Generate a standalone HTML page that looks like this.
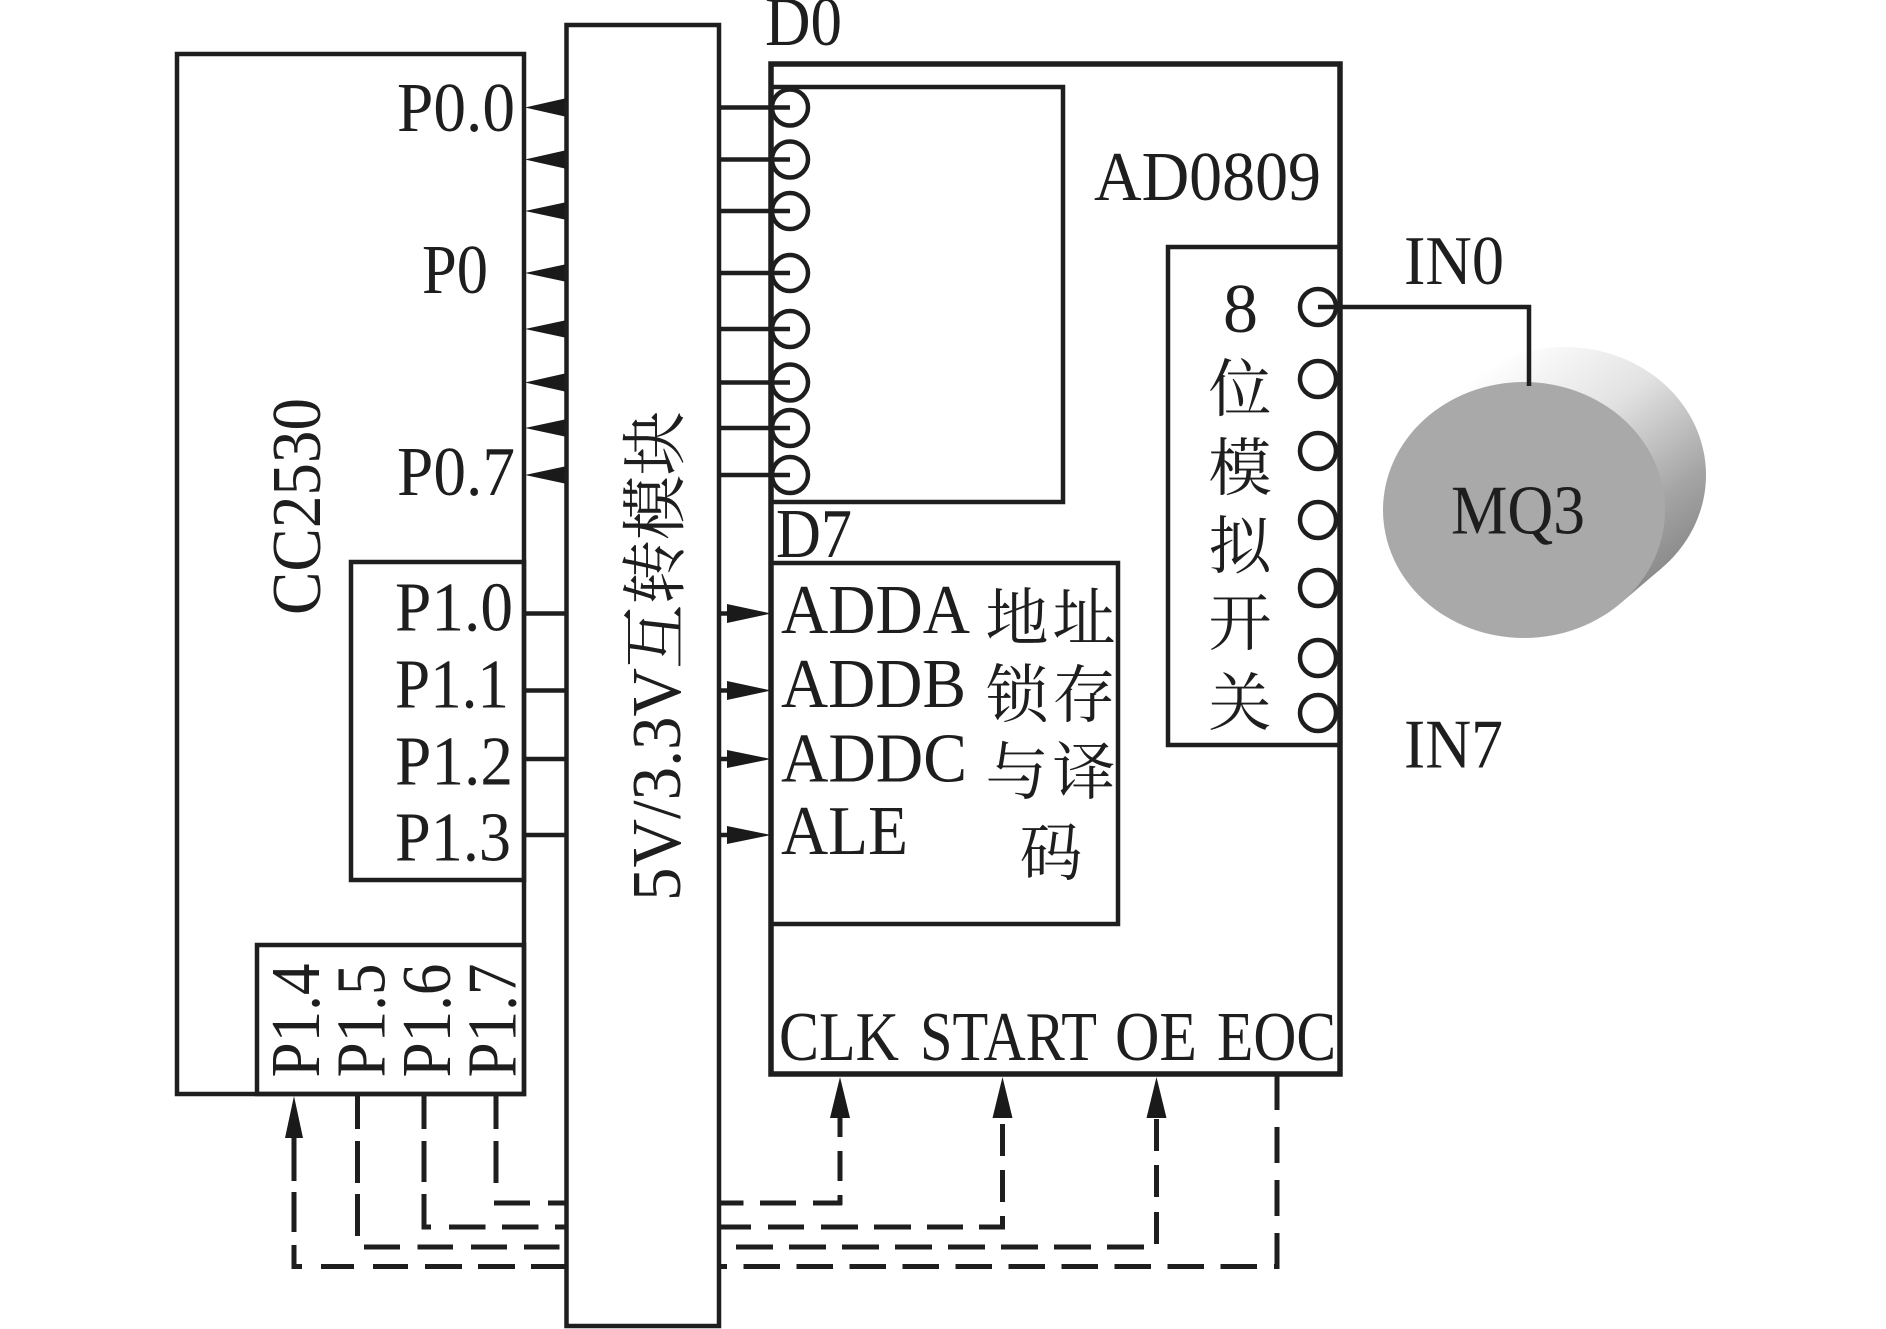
<!DOCTYPE html>
<html><head><meta charset="utf-8"><title>Diagram</title>
<style>
html,body{margin:0;padding:0;background:#fff}
svg{display:block}
text{font-family:"Liberation Serif","Noto Serif CJK SC",serif;fill:#1e1e1e;font-size:70px}
.c{font-size:63px}
</style></head><body>
<svg xmlns="http://www.w3.org/2000/svg" width="1886" height="1329" viewBox="0 0 1886 1329">
<defs>
<linearGradient id="g" gradientUnits="userSpaceOnUse" x1="1510" y1="350" x2="1690" y2="590">
<stop offset="0" stop-color="#fff"/><stop offset=".35" stop-color="#e2e2e2"/><stop offset=".7" stop-color="#a5a5a5"/><stop offset="1" stop-color="#7d7d7d"/>
</linearGradient>
</defs>
<rect width="1886" height="1329" fill="#fff"/>

<!-- MQ3 -->
<g>
<ellipse cx="1565" cy="475" rx="141" ry="128" fill="url(#g)"/>
<polygon points="1427.500,416.700 1468.500,381.700 1661.500,568.300 1620.500,603.300" fill="url(#g)"/>
<ellipse cx="1524" cy="510" rx="141" ry="128" fill="#a9a9a9"/>
</g>

<g fill="none" stroke="#1e1e1e" stroke-width="4.500">
<!-- CC2530 -->
<rect x="177" y="54" width="347" height="1040"/>
<rect x="351" y="562" width="173" height="318"/>
<rect x="257" y="945" width="267" height="149"/>
<!-- AD0809 -->
<rect x="771" y="64" width="569" height="1010" stroke-width="5.500"/>
<rect x="771" y="87" width="292" height="415"/>
<rect x="771" y="563" width="347" height="361"/>
<rect x="1168" y="247" width="172" height="498"/>
<!-- input circles -->
<g>
<circle cx="790" cy="107.500" r="18"/><circle cx="790" cy="159.500" r="18"/><circle cx="790" cy="211" r="18"/><circle cx="790" cy="273" r="18"/><circle cx="790" cy="329" r="18"/><circle cx="790" cy="382.500" r="18"/><circle cx="790" cy="428" r="18"/><circle cx="790" cy="475" r="18"/>
</g>
<g>
<circle cx="1318" cy="307" r="18"/><circle cx="1318" cy="379" r="18"/><circle cx="1318" cy="451" r="18"/><circle cx="1318" cy="520" r="18"/><circle cx="1318" cy="588" r="18"/><circle cx="1318" cy="658" r="18"/><circle cx="1318" cy="713" r="18"/>
</g>
<!-- D lines -->
<path d="M719 107.500H790M719 159.500H790M719 211H790M719 273H790M719 329H790M719 382.500H790M719 428H790M719 475H790"/>
<!-- P1 lines -->
<path d="M524 613.500H566M524 690.500H566M524 759H566M524 835H566M719 613.500H740M719 690.500H740M719 759H740M719 835H740"/>
<!-- IN0 -->
<path d="M1318 307H1529V386"/>
<!-- dashed lines -->
<g stroke-width="5">
<path d="M294 1137V1181M294 1192V1232M294 1245V1269"/>
<path d="M357.500 1096V1129M357.500 1141V1183M357.500 1194V1236"/>
<path d="M424 1096V1129M424 1141V1182M424 1194V1229.500"/>
<path d="M496 1096V1129M496 1141V1183"/>
<path d="M840 1117V1137M840 1151V1181M840 1195V1205"/>
<path d="M1002.500 1124V1156M1002.500 1170V1202M1002.500 1216V1229.500"/>
<path d="M1156.500 1119V1151M1156.500 1165V1197M1156.500 1212V1244"/>
<path d="M1277 1076V1110M1277 1127V1163M1277 1180V1216M1277 1233V1268"/>

<path d="M494 1203H530M548 1203H567M719 1203H743.500M760 1203H796M813 1203H842"/>
<path d="M421.500 1227H431M449 1227H485.500M502 1227H538.500M555 1227H567M719 1227H751M768 1227H804M821 1227H858M874 1227H911M927 1227H963M979 1227H1005"/>
<path d="M364 1247H400M417.500 1247H453M471 1247H507M524 1247H559.500M736 1247H773M789 1247H826M842 1247H879M895 1247H932M948 1247H985M1001 1247H1038M1054 1247H1091M1107 1247H1144"/>
<path d="M291.500 1266.500H302M321 1266.500H354M373 1266.500H408M425 1266.500H462M478 1266.500H515M531 1266.500H567M721 1266.500H727M743.500 1266.500H780M796.500 1266.500H833M849.500 1266.500H886M902.500 1266.500H939M955.500 1266.500H992M1008.500 1266.500H1045M1061.500 1266.500H1098M1114.500 1266.500H1151M1167.500 1266.500H1204M1220.500 1266.500H1257M1274 1266.500H1279.500"/>
</g>
</g>

<!-- arrows -->
<g fill="#1a1a1a">
<polygon points="525,107.500 567,98 567,117"/><polygon points="525,159.500 567,150 567,169"/><polygon points="525,211 567,202 567,220"/><polygon points="525,273 567,264 567,282"/><polygon points="525,329 567,320 567,338"/><polygon points="525,382.500 567,373 567,392"/><polygon points="525,428 567,419 567,437"/><polygon points="525,475 567,466 567,484"/>
<polygon points="771,613.500 727,604 727,623"/><polygon points="771,690.500 727,681 727,700"/><polygon points="771,759 727,750 727,768"/><polygon points="771,835 727,826 727,844"/>
<polygon points="294,1096 285,1138 303,1138"/>
<polygon points="840,1077 830,1118 850,1118"/>
<polygon points="1002.500,1077 992.500,1118 1012.500,1118"/>
<polygon points="1156.500,1077 1146.500,1118 1166.500,1118"/>
</g>

<!-- module -->
<rect x="566.500" y="25" width="152.500" height="1301" fill="#fff" stroke="#1e1e1e" stroke-width="4.500"/>
<g transform="translate(680 901) rotate(-90)">
<text x="0" y="0" textLength="233" lengthAdjust="spacingAndGlyphs">5V/3.3V</text>
<text x="232" y="-2" textLength="258" lengthAdjust="spacingAndGlyphs" style="font-size:66px">互转模块</text>
</g>
<text transform="translate(320 615) rotate(-90)" textLength="217" lengthAdjust="spacingAndGlyphs">CC2530</text>

<text x="397" y="131" textLength="118" lengthAdjust="spacingAndGlyphs">P0.0</text>
<text x="422" y="293" textLength="66" lengthAdjust="spacingAndGlyphs">P0</text>
<text x="397" y="495" textLength="118" lengthAdjust="spacingAndGlyphs">P0.7</text>
<text x="395" y="630.500" textLength="118" lengthAdjust="spacingAndGlyphs">P1.0</text>
<text x="395" y="707.500" textLength="114" lengthAdjust="spacingAndGlyphs">P1.1</text>
<text x="395" y="784.500" textLength="118" lengthAdjust="spacingAndGlyphs">P1.2</text>
<text x="395" y="860.500" textLength="116" lengthAdjust="spacingAndGlyphs">P1.3</text>

<text transform="translate(319 1077.500) rotate(-90)" textLength="114" lengthAdjust="spacingAndGlyphs">P1.4</text>
<text transform="translate(384.500 1077.500) rotate(-90)" textLength="114" lengthAdjust="spacingAndGlyphs">P1.5</text>
<text transform="translate(450 1077.500) rotate(-90)" textLength="114" lengthAdjust="spacingAndGlyphs">P1.6</text>
<text transform="translate(515.500 1077.500) rotate(-90)" textLength="114" lengthAdjust="spacingAndGlyphs">P1.7</text>

<text x="765" y="45" textLength="77" lengthAdjust="spacingAndGlyphs">D0</text>
<text x="776" y="557" textLength="76" lengthAdjust="spacingAndGlyphs">D7</text>
<text x="1094" y="200" textLength="227" lengthAdjust="spacingAndGlyphs">AD0809</text>
<text x="1404" y="284" textLength="100" lengthAdjust="spacingAndGlyphs">IN0</text>
<text x="1404" y="767.500" textLength="99" lengthAdjust="spacingAndGlyphs">IN7</text>
<text x="1451" y="533.500" textLength="134" lengthAdjust="spacingAndGlyphs">MQ3</text>

<text x="781" y="633" textLength="189" lengthAdjust="spacingAndGlyphs">ADDA</text>
<text x="781" y="707" textLength="185" lengthAdjust="spacingAndGlyphs">ADDB</text>
<text x="781" y="781.500" textLength="186" lengthAdjust="spacingAndGlyphs">ADDC</text>
<text x="781" y="854" textLength="127" lengthAdjust="spacingAndGlyphs">ALE</text>

<text x="779" y="1060" textLength="120" lengthAdjust="spacingAndGlyphs">CLK</text>
<text x="920" y="1060" textLength="177" lengthAdjust="spacingAndGlyphs">START</text>
<text x="1115" y="1060" textLength="82" lengthAdjust="spacingAndGlyphs">OE</text>
<text x="1217" y="1060" textLength="119" lengthAdjust="spacingAndGlyphs">EOC</text>

<text x="1223" y="332">8</text>
<g class="c" style="text-anchor:middle">
<text class="c" x="1240" y="411">位</text>
<text class="c" x="1240" y="490">模</text>
<text class="c" x="1240" y="568">拟</text>
<text class="c" x="1240" y="645">开</text>
<text class="c" x="1240" y="725">关</text>
<text class="c" x="1017" y="640">地</text>
<text class="c" x="1084" y="640">址</text>
<text class="c" x="1017" y="717">锁</text>
<text class="c" x="1084" y="717">存</text>
<text class="c" x="1017" y="794">与</text>
<text class="c" x="1084" y="794">译</text>
<text class="c" x="1051" y="875">码</text>
</g>
</svg>
</body></html>
